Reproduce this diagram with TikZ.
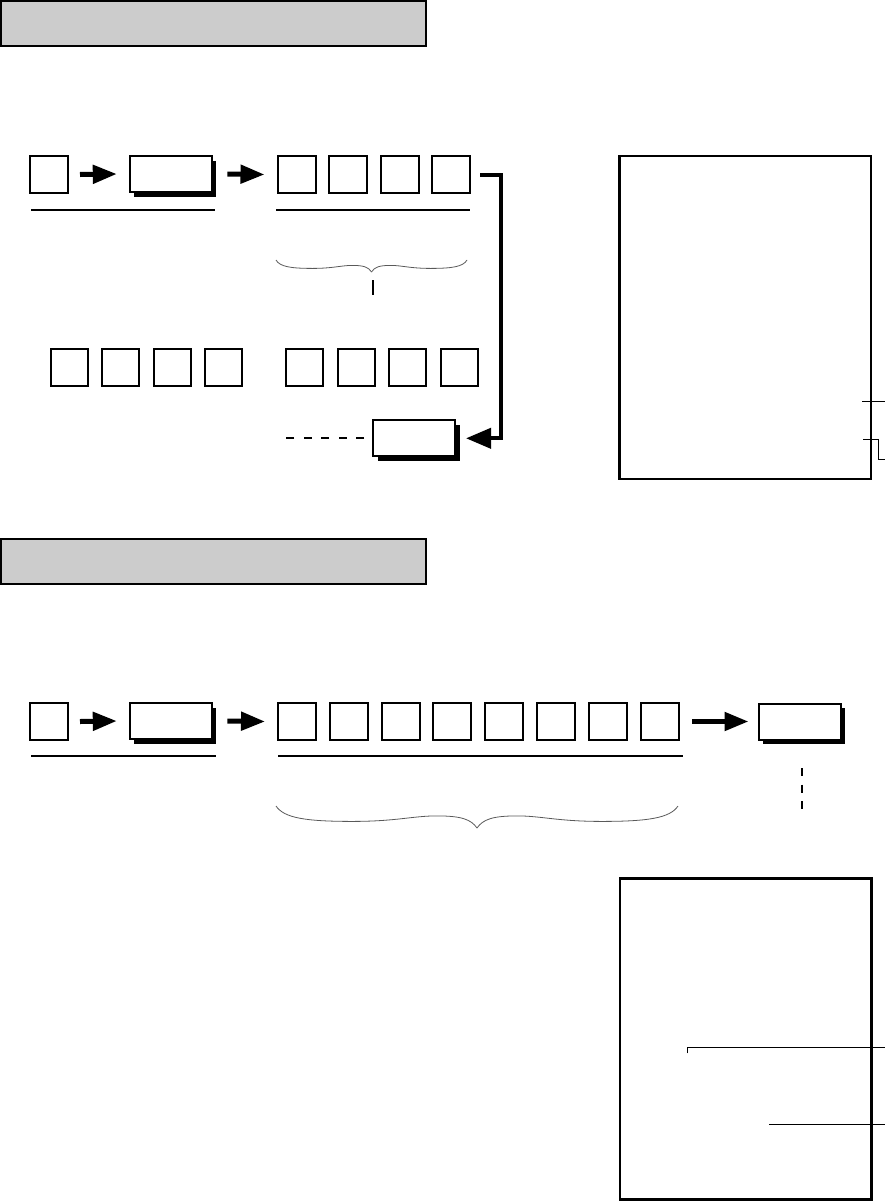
\documentclass[tikz,border=0pt]{standalone}
\usetikzlibrary{arrows.meta,shadows}
\definecolor{hdrgray}{HTML}{CCCCCC}
\newcommand{\curlybrace}[4]{%
  \begin{scope}[shift={({(#1+#2)/2},#3)},xscale={(#2-#1)/2},yscale=#4]
    \draw[bracestyle] (-1,0) .. controls (-0.96,0.55) and (-0.85,0.7) .. (-0.62,0.7)
      .. controls (-0.4,0.7) and (-0.32,0.45) .. (-0.2,0.45)
      .. controls (-0.08,0.45) and (-0.03,0.6) .. (0,1);
    \draw[bracestyle] (1,0) .. controls (0.96,0.55) and (0.85,0.7) .. (0.62,0.7)
      .. controls (0.4,0.7) and (0.32,0.45) .. (0.2,0.45)
      .. controls (0.08,0.45) and (0.03,0.6) .. (0,1);
  \end{scope}}
\begin{document}
\begin{tikzpicture}[x=1pt,y=-1pt,
  key/.style={draw,line width=2pt,minimum width=38pt,minimum height=37pt,inner sep=0pt,fill=white},
  wkey/.style={key,minimum width=82pt,minimum height=36pt,
    drop shadow={shadow xshift=4.5pt,shadow yshift=-4.5pt,fill=black,opacity=1}},
  hdr/.style={draw,line width=2pt,fill=hdrgray,minimum width=425pt,minimum height=44.7pt,inner sep=0pt},
  panel/.style={draw,line width=2.3pt,inner sep=0pt,minimum width=251.7pt},
  keyarrow/.style={line width=5pt,-{Triangle[length=24pt,width=18pt]}},
  uline/.style={line width=2pt},
  thin/.style={line width=1.1pt},
  bracestyle/.style={line width=0.8pt,black!65},
  dashline/.style={line width=2pt,dash pattern=on 8pt off 9.5pt}]
\useasboundingbox (0,0) rectangle (885,1202);

% ---------- section 1 ----------
\node[hdr] (h1) at (213.5,23.3) {};

\node[key] (b1) at (49,174.5) {};
\node[wkey] (b2) at (170.8,174) {};
\foreach \i in {1,...,4}{
  \node[key] (a\i) at ({296.5+51.5*(\i-1)},174.5) {};
}
\draw[keyarrow] ([xshift=11pt]b1.east) -- ([xshift=-12pt]b2.west);
\draw[keyarrow] ([xshift=14.5pt]b2.east) -- ([xshift=-12pt]a1.west);
\draw[uline] (31,210) -- (215,210);
\draw[uline] (276,210) -- (470,210);
\curlybrace{276}{467}{260}{12}
\draw[uline] (372.5,280) -- (372.5,295);

\foreach \i in {1,...,4}{
  \node[key,minimum width=37pt] (c\i) at ({69+51.5*(\i-1)},367.8) {};
  \node[key,minimum width=37pt] (d\i) at ({304.5+51.5*(\i-1)},367.8) {};
}
\node[wkey] (sh) at (414,438.3) {};
\draw[line width=4pt,-{Triangle[length=25pt,width=20pt]}]
  ([xshift=9pt]a4.east) -- ++(21,0) |- ([xshift=10pt]sh.east);
\draw[dashline] ([xshift=-8pt]sh.west) -- ++(-78.3,0);

\node[panel,minimum height=322.7pt] (p1) at (745.3,317.5) {};
\draw[thin] (862,401.5) -- (885,401.5);
\draw[thin] (863,439.2) -- (878.3,439.2) -- (878.3,459.2) -- (885,459.2);

% ---------- section 2 ----------
\node[hdr] (h2) at (213.5,561.3) {};

\node[key] (r1) at (49,721.5) {};
\node[wkey] (r2) at (170.8,721) {};
\foreach \i in {1,...,8}{
  \node[key] (e\i) at ({297+51.8*(\i-1)},721.5) {};
}
\node[wkey] (r3) at (799.5,721.5) {};
\draw[keyarrow] ([xshift=11pt]r1.east) -- ([xshift=-12pt]r2.west);
\draw[keyarrow] ([xshift=14.5pt]r2.east) -- ([xshift=-12pt]e1.west);
\draw[keyarrow] ([xshift=12.4pt]e8.east) -- ([xshift=-9pt]r3.west);
\draw[uline] (31,756) -- (215.6,756);
\draw[uline] (278,756) -- (682.5,756);
\curlybrace{276}{678}{806}{22}
\draw[line width=2pt,dash pattern=on 8pt off 8.5pt] ([xshift=2pt,yshift=-27.5pt]r3.south) -- ++(0,41);

\node[panel,minimum height=321.1pt] (p2) at (745.6,1039) {};
\draw[thin] (687.3,1053.3) -- (687.3,1047.5) -- (885,1047.5);
\draw[thin] (769.3,1124.3) -- (885,1124.3);
\end{tikzpicture}
\end{document}
